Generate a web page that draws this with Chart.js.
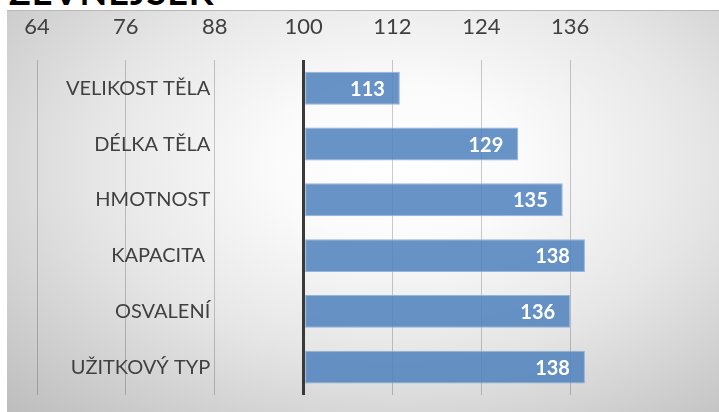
<!DOCTYPE html>
<html>
<head>
<meta charset="utf-8">
<script src="https://cdn.jsdelivr.net/npm/chart.js@4.4.1/dist/chart.umd.min.js"></script>
<style>
  html, body { margin: 0; padding: 0; background: #fff; }
  #wrap { position: relative; width: 719px; height: 412px; overflow: hidden; }
  #box {
    position: absolute; left: 7px; top: 10px; width: 712px; height: 401px;
    border-top: 1px solid #b8b8b8;
    background: radial-gradient(ellipse farthest-corner at 55% 38%, #ffffff 0%, #fbfbfb 22%, #e6e6e6 55%, #bdbdbd 100%);
  }
  #title {
    position: absolute; left: 9px; top: -31px;
    font: bold 36px Lato, sans-serif; color: #000; white-space: nowrap; letter-spacing: 1px;
  }
  #chart { position: absolute; left: 0; top: 0; }
</style>
</head>
<body>
<div id="wrap">
  <div id="title">ZEVNĚJŠEK</div>
  <div id="box"></div>
  <canvas id="chart" width="719" height="412"></canvas>
</div>
<script>
// data
const categories = ['VELIKOST TĚLA', 'DÉLKA TĚLA', 'HMOTNOST', 'KAPACITA ', 'OSVALENÍ', 'UŽITKOVÝ TYP'];
const values = [113, 129, 135, 138, 136, 138];
const tickValues = [64, 76, 88, 100, 112, 124, 136];
const baseValue = 100;

// white numbers at the end of each bar
const barLabels = {
    id: 'barLabels',
    afterDatasetsDraw(chart) {
        const ctx = chart.ctx;
        const meta = chart.getDatasetMeta(0);
        ctx.save();
        ctx.font = 'bold 20px Lato, sans-serif';
        ctx.fillStyle = '#ffffff';
        ctx.textAlign = 'right';
        ctx.textBaseline = 'middle';
        meta.data.forEach((bar, i) => {
            ctx.fillText(values[i], bar.x - 15, bar.y + 1);
        });
        ctx.restore();
    }
};

new Chart(document.getElementById('chart'), {
    type: 'bar',
    data: {
        labels: categories,
        datasets: [{
            data: values,
            base: baseValue,
            backgroundColor: 'rgba(79,129,189,0.86)',
            borderColor: 'rgba(140,174,216,0.9)',
            borderWidth: 1,
            borderSkipped: false,
            categoryPercentage: 1,
            barPercentage: 0.59
        }]
    },
    options: {
        indexAxis: 'y',
        responsive: false,
        animation: false,
        layout: { padding: { left: 37, right: 60, top: -6, bottom: 17 } },
        plugins: { legend: { display: false }, tooltip: { enabled: false } },
        scales: {
            x: {
                position: 'top',
                min: 64,
                max: 148,
                afterBuildTicks: s => { s.ticks = tickValues.map(v => ({ value: v })); },
                border: { display: false },
                grid: {
                    drawTicks: false,
                    color: c => c.tick && c.tick.value === baseValue ? '#3a3a3a' : 'rgba(0,0,0,0.2)',
                    lineWidth: c => c.tick && c.tick.value === baseValue ? 3 : 1
                },
                ticks: {
                    padding: 20,
                    color: '#404040',
                    font: { family: 'Lato', size: 22 }
                }
            },
            y: {
                position: { x: 87.4 },
                afterFit: s => { s.paddingTop = 0; s.paddingBottom = 0; },
                border: { display: false },
                grid: { display: false, drawTicks: false },
                ticks: {
                    padding: 0,
                    color: '#404040',
                    font: { family: 'Lato', size: 20 }
                }
            }
        }
    },
    plugins: [barLabels]
});
</script>
</body>
</html>
